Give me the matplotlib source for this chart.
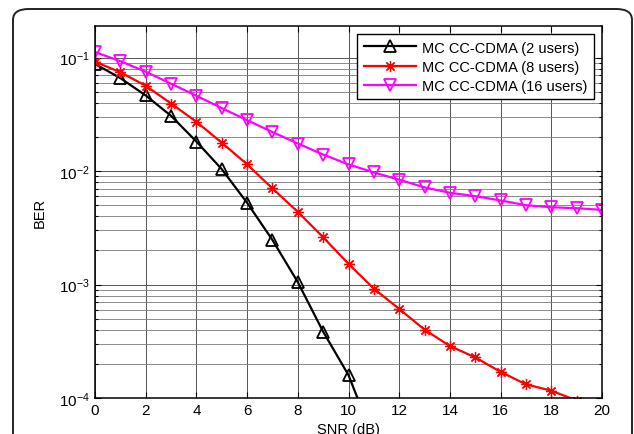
import matplotlib
matplotlib.use("Agg")
import matplotlib.pyplot as plt
from matplotlib.patches import FancyBboxPatch
from matplotlib.ticker import LogLocator, NullFormatter
import numpy as np

plt.rcParams['font.family'] = ['Liberation Sans', 'DejaVu Sans']

#%% data
snr_2 = [0, 1, 2, 3, 4, 5, 6, 7, 8, 9, 10, 11]
ber_2 = [0.088, 0.066, 0.0464, 0.0307, 0.0182, 0.0104, 0.00525, 0.00247,
         0.00105, 3.84e-4, 1.59e-4, 4.3e-5]

snr_8 = [0, 1, 2, 3, 4, 5, 6, 7, 8, 9, 10, 11, 12, 13, 14, 15, 16, 17, 18, 19, 20]
ber_8 = [0.092, 0.0743, 0.0565, 0.0394, 0.0272, 0.0178, 0.01146, 0.00703,
         0.00437, 0.00261, 0.00152, 9.2e-4, 6.1e-4, 4.0e-4, 2.87e-4, 2.28e-4,
         1.70e-4, 1.32e-4, 1.16e-4, 9.5e-5, 8.0e-5]

snr_16 = [0, 1, 2, 3, 4, 5, 6, 7, 8, 9, 10, 11, 12, 13, 14, 15, 16, 17, 18, 19, 20]
ber_16 = [0.112, 0.093, 0.0751, 0.0589, 0.0461, 0.0359, 0.0281, 0.0221,
          0.0175, 0.0140, 0.01145, 0.00973, 0.0084, 0.00718, 0.00644, 0.00601,
          0.00551, 0.0050, 0.0048, 0.00471, 0.00455]

labels = ['MC CC-CDMA (2 users)', 'MC CC-CDMA (8 users)', 'MC CC-CDMA (16 users)']
xticks = [0, 2, 4, 6, 8, 10, 12, 14, 16, 18, 20]

#%% plotting
W, H = 634, 435
fig = plt.figure(figsize=(W / 100, H / 100), dpi=100)

# rounded frame around the figure
frame = FancyBboxPatch((13 / W, -0.2), (632 - 13) / W, (H - 10) / H + 0.2,
                       boxstyle="round,pad=0,rounding_size=0.025",
                       transform=fig.transFigure, fill=False,
                       ec='#222222', lw=1.4, clip_on=False)
fig.patches.append(frame)

ax = fig.add_axes([95 / W, 1 - 399 / H, (602 - 95) / W, (399 - 27) / H])

ax.plot(snr_2, ber_2, 'k-', marker='^', ms=8, mfc='none', mew=1.3, lw=1.6,
        label=labels[0])
ax.plot(snr_8, ber_8, '-', color='red', marker=(8, 2, 0), ms=8, mew=0.9,
        lw=1.6, label=labels[1])
ax.plot(snr_16, ber_16, '-', color='magenta', marker='v', ms=8, mfc='none',
        mew=1.3, lw=1.6, label=labels[2])

ax.set_yscale('log')
ax.set_xlim(0, 20)
ax.set_ylim(1e-4, 0.19)
ax.set_xticks(xticks)
ax.set_xticklabels([str(t) for t in xticks])
ax.yaxis.set_major_locator(LogLocator(base=10, numticks=10))
ax.yaxis.set_minor_locator(LogLocator(base=10, subs=np.arange(2, 10), numticks=20))
ax.yaxis.set_minor_formatter(NullFormatter())

ax.grid(True, which='major', color='#555555', lw=0.7)
ax.grid(True, which='minor', axis='y', color='#777777', lw=0.6)
ax.tick_params(which='both', direction='in', top=True, right=True,
               labelsize=11, width=0.8)
ax.tick_params(which='major', length=4)
ax.tick_params(which='minor', length=2.5)
for s in ax.spines.values():
    s.set_linewidth(1.1)

ax.set_xlabel('SNR (dB)', fontsize=10.5, labelpad=4)
ax.set_ylabel('BER', fontsize=10.5, labelpad=9)

leg = ax.legend(loc='upper right', fontsize=10.5, fancybox=False,
                edgecolor='black', framealpha=1, borderaxespad=0.55,
                handlelength=3.6, handletextpad=0.4, labelspacing=0.35,
                borderpad=0.45)
leg.get_frame().set_linewidth(1.0)

plt.savefig('out.png', dpi=100)
